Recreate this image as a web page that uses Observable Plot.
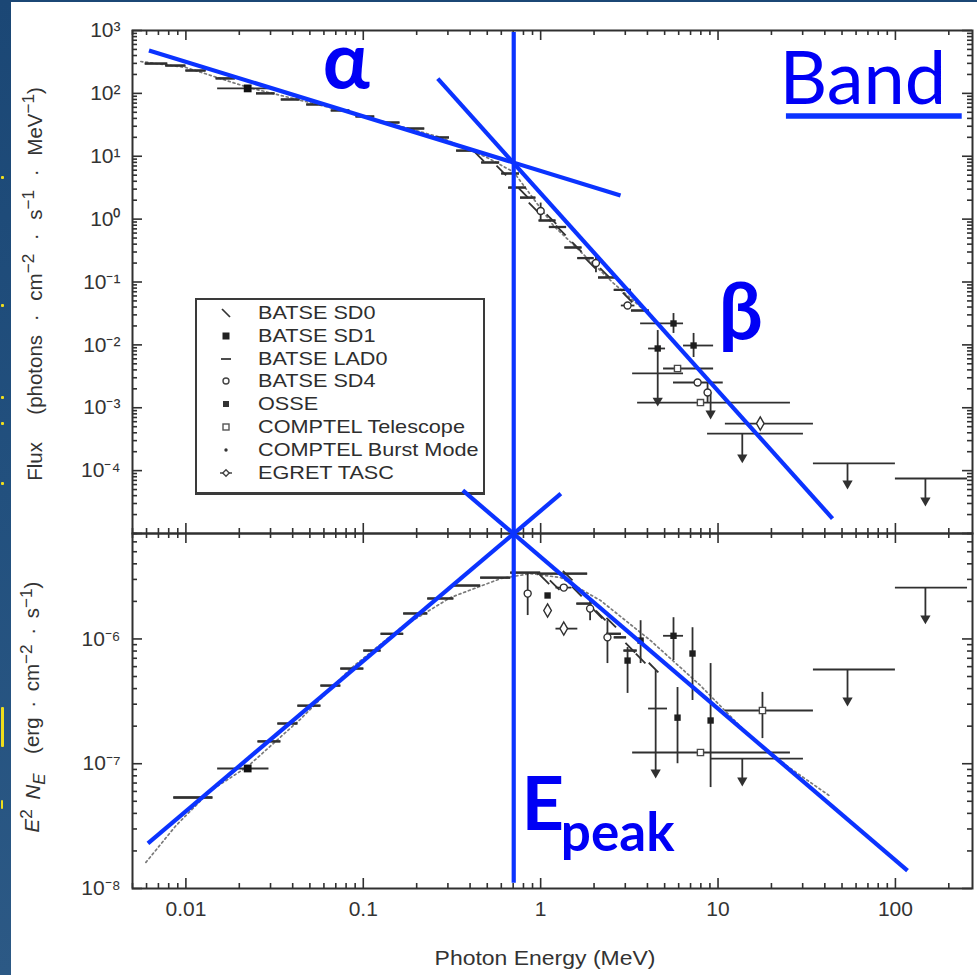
<!DOCTYPE html>
<html>
<head>
<meta charset="utf-8">
<script src="https://cdn.jsdelivr.net/npm/d3@7"></script>
<script src="https://cdn.jsdelivr.net/npm/@observablehq/plot@0.6"></script>
<style>
  html, body { margin: 0; padding: 0; background: #fff; }
  #fig { position: relative; width: 977px; height: 975px; overflow: hidden; background: #fff;
         font-family: "Liberation Sans", Arial, Helvetica, sans-serif; color: #333; }
  #edge { position: absolute; left: 0; top: 0; width: 11px; height: 975px;
          background: linear-gradient(180deg, #1b4775 0%, #22507e 50%, #2c5985 100%); }
  #edgeTop { position: absolute; left: 0; top: 0; width: 977px; height: 2px; background: #1b4775; }
  .fleck { position: absolute; left: 1px; width: 3px; background: #f0de1c; border-radius: 1px; }
  .panel { position: absolute; left: 0; }
  .ytitle { position: absolute; white-space: nowrap; font-size: 20.5px;
            transform: translate(-50%, -50%) rotate(-90deg); }
  .ytitle i { font-style: italic; }
  #xtitle { position: absolute; left: 545px; top: 958px; transform: translate(-50%, -50%) scaleX(1.12);
            font-size: 20.5px; white-space: nowrap; }
  #legend { position: absolute; left: 195px; top: 298px; width: 286px; height: 190px;
            border: 2px solid #3a3a3a; border-bottom-width: 3px; background: #fff; padding-top: 2px;
            box-sizing: content-box; }
  #legend .row { position: relative; height: 22.8px; }
  #legend svg { position: absolute; left: 22px; top: 4px; width: 14px; height: 14px; overflow: visible; }
  #legend span { position: absolute; left: 61px; top: 0; line-height: 22.8px; font-size: 18.5px;
                 transform: scaleX(1.17); transform-origin: left center; white-space: nowrap; color: #2e2e2e; }
</style>
</head>
<body>
<div id="fig">
  <div id="edge"></div>
  <div id="edgeTop"></div>
  <div class="fleck" style="top:176px;height:3px"></div>
  <div class="fleck" style="top:304px;height:3px"></div>
  <div class="fleck" style="top:396px;height:3px"></div>
  <div class="fleck" style="top:422px;height:3px"></div>
  <div class="fleck" style="top:482px;height:3px"></div>
  <div class="fleck" style="top:707px;height:40px"></div>
  <div class="fleck" style="top:800px;height:9px;width:2px"></div>

  <div id="upper" class="panel" style="top:0"></div>

  <div id="legend">
    <div class="row"><svg viewBox="-7 -7 14 14"><line x1="-4" y1="-4" x2="4" y2="4" stroke="#333" stroke-width="1.7"/></svg><span>BATSE SD0</span></div>
    <div class="row"><svg viewBox="-7 -7 14 14"><rect x="-3.5" y="-3.5" width="7" height="7" fill="#222"/></svg><span>BATSE SD1</span></div>
    <div class="row"><svg viewBox="-7 -7 14 14"><line x1="-5" y1="0" x2="5" y2="0" stroke="#444" stroke-width="1.9"/></svg><span>BATSE LAD0</span></div>
    <div class="row"><svg viewBox="-7 -7 14 14"><circle r="3" fill="#fff" stroke="#444" stroke-width="1.4"/></svg><span>BATSE SD4</span></div>
    <div class="row"><svg viewBox="-7 -7 14 14"><rect x="-3" y="-3" width="6" height="6" fill="#333"/></svg><span>OSSE</span></div>
    <div class="row"><svg viewBox="-7 -7 14 14"><rect x="-3" y="-3" width="6" height="6" fill="#fff" stroke="#555" stroke-width="1.4"/></svg><span>COMPTEL Telescope</span></div>
    <div class="row"><svg viewBox="-7 -7 14 14"><circle r="1.7" fill="#333"/></svg><span>COMPTEL Burst Mode</span></div>
    <div class="row"><svg viewBox="-7 -7 14 14"><line x1="-6" y1="0" x2="6" y2="0" stroke="#444" stroke-width="1.5"/><path d="M0,-3.2L3.2,0L0,3.2L-3.2,0Z" fill="#fff" stroke="#444" stroke-width="1.4"/></svg><span>EGRET TASC</span></div>
  </div>

  <div id="lower" class="panel" style="top:533px"></div>

  <div class="ytitle" style="left:33px;top:284px;word-spacing:8px">Flux&nbsp; (photons · cm<sup>−2</sup> · s<sup>−1</sup> · MeV<sup>−1</sup>)</div>
  <div class="ytitle" style="left:33px;top:707px;word-spacing:4px"><i>E</i><sup>2</sup> <i>N<sub>E</sub></i>&nbsp; (erg · cm<sup>−2</sup> · s<sup>−1</sup>)</div>
  <div id="xtitle">Photon Energy (MeV)</div>
</div>

<script>
// ---------- axes ----------
const energyDomain = [0.005, 272];
const fluxDomain = [1e-5, 1e3];
const nufnuDomain = [1e-8, 7e-6];

const energyTicks = [0.01, 0.1, 1, 10, 100];
const energyTickLabels = ["0.01", "0.1", "1", "10", "100"];
const fluxTicks = [1e3, 1e2, 1e1, 1, 1e-1, 1e-2, 1e-3, 1e-4];
const fluxTickLabels = ["10³", "10²", "10¹", "10⁰", "10⁻¹", "10⁻²", "10⁻³", "10⁻⁴"];
const nufnuTicks = [1e-6, 1e-7, 1e-8];
const nufnuTickLabels = ["10⁻⁶", "10⁻⁷", "10⁻⁸"];

// ---------- upper panel: photon flux ----------
// [E (MeV), flux, E low, E high, flux low, flux high]
const lad0Flux = [
  [0.0068, 298, 0.0059, 0.0079], [0.0088, 277, 0.0077, 0.0100], [0.0114, 231, 0.0100, 0.0130],
  [0.0168, 173, 0.0148, 0.0190], [0.0282, 100, 0.0250, 0.0318], [0.0391, 80, 0.0345, 0.0440],
  [0.054, 66.6, 0.048, 0.0605], [0.0747, 53.5, 0.066, 0.084], [0.103, 42.9, 0.091, 0.116],
  [0.143, 34.4, 0.127, 0.161], [0.198, 27.6, 0.176, 0.222], [0.273, 19.9, 0.243, 0.306],
  [0.378, 12.3, 0.336, 0.424], [0.523, 7.96, 0.465, 0.587], [0.678, 5.32, 0.603, 0.760],
  [0.741, 3.18, 0.66, 0.83], [0.85, 2.2, 0.77, 0.94], [1.094, 0.951, 0.98, 1.22],
  [1.25, 0.75, 1.12, 1.4], [1.53, 0.354, 1.37, 1.71], [1.8, 0.24, 1.62, 2.0],
  [2.38, 0.118, 2.12, 2.66], [2.9, 0.075, 2.6, 3.25], [3.66, 0.0352, 3.25, 4.1]
];
// [E, flux]
const sd0Flux = [[0.45, 9.9], [0.60, 5.93], [0.80, 2.6], [0.912, 1.53], [1.15, 1.0], [1.30, 0.659],
  [1.6, 0.36], [1.91, 0.197], [2.3, 0.14], [3.09, 0.0568], [4.57, 0.0219]];
const sd1Flux = [[0.0223, 120, 0.0151, 0.0294]];
const sd4Flux = [[1.0, 1.35, null, null, 0.95, 1.8], [2.05, 0.2, null, null, 0.14, 0.27],
  [3.09, 0.0423, 2.85, 3.4], [7.67, 0.00252, 5.61, 10.7], [8.73, 0.00175, null, null, 0.00121, 0.00252]];
const osseFlux = [
  [5.61, 0.0219, 3.66, 6.39, 0.0152, 0.0315],
  [4.57, 0.00876, 4.06, 5.06, 0.00351, 0.0169],
  [7.28, 0.00977, 6.39, 9.44, 0.0063, 0.0152]
];
const comptelFlux = [[5.91, 0.00421, 4.93, 9.44], [7.96, 0.00121, 3.52, 25.6]];
const egretFlux = [[17.3, 5.61e-4, 11.0, 34.5]];
// upper limits: [E, flux, E low, E high, arrow tip]
const limitsFlux = [
  [4.57, 0.00351, 3.30, 6.39, 0.0013],
  [9.08, 0.00175, null, null, 8.09e-4],
  [13.7, 3.89e-4, 8.73, 30.3, 1.62e-4],
  [53.7, 1.30e-4, 34.5, 100, 6.24e-5],
  [147.6, 7.50e-5, 100, 255, 3.35e-5]
];
const modelFlux = [
  [0.00557, 321], [0.01, 258], [0.0223, 125], [0.0747, 54], [0.273, 20], [0.50, 9.5],
  [0.705, 5.6], [1.18, 0.79], [2.58, 0.095], [4.0, 0.032]
];

// ---------- lower panel: E² N_E ----------
const lad0NuFnu = [
  [0.0111, 5.36e-8, 0.00855, 0.0142], [0.0294, 1.51e-7, 0.0255, 0.0343], [0.0376, 2.10e-7, 0.0330, 0.0428],
  [0.0493, 2.92e-7, 0.0428, 0.0577], [0.0656, 4.23e-7, 0.0577, 0.0747], [0.0873, 5.79e-7, 0.0747, 0.1007],
  [0.113, 8.07e-7, 0.1007, 0.126], [0.147, 1.10e-6, 0.126, 0.169], [0.198, 1.60e-6, 0.169, 0.231],
  [0.273, 2.11e-6, 0.231, 0.324], [0.383, 2.68e-6, 0.324, 0.459], [0.557, 3.10e-6, 0.459, 0.678],
  [0.823, 3.40e-6, 0.678, 1.0], [1.30, 3.34e-6, 0.962, 1.84], [1.75, 1.92e-6, 1.6, 1.95],
  [2.58, 1.10e-6, 2.35, 2.85], [2.82, 1.03e-6, 2.6, 3.05], [3.21, 8.07e-7, 2.95, 3.5]
];
const sd0NuFnu = [[1.05, 3.0e-6], [1.2, 2.7e-6], [1.42, 3.22e-6], [1.6, 2.4e-6], [2.09, 1.60e-6],
  [2.18, 1.54e-6], [2.5, 1.35e-6], [3.2, 8.5e-7], [3.66, 6.97e-7], [4.33, 5.90e-7]];
const sd1NuFnu = [[0.0223, 9.16e-8, 0.0151, 0.0294]];
const sd4NuFnu = [
  [0.845, 2.31e-6, null, null, 1.54e-6, 3.34e-6],
  [1.35, 2.58e-6, 1.22, 1.5],
  [1.9, 1.75e-6, null, null, 1.4e-6, 2.1e-6],
  [2.38, 1.03e-6, null, null, 6.35e-7, 1.40e-6]
];
const osseNuFnu = [
  [1.094, 2.23e-6],
  [3.66, 9.70e-7, null, null, 6.35e-7, 1.40e-6],
  [5.61, 1.06e-6, 4.93, 6.39, 6.71e-7, 1.48e-6],
  [7.18, 7.64e-7, null, null, 3.21e-7, 1.23e-6],
  [9.08, 2.22e-7, null, null, 6.44e-8, 6.35e-7],
  [5.91, 2.34e-7, null, null, 1.00e-7, 4.08e-7],
  [3.09, 6.71e-7, null, null, 3.66e-7, 8.53e-7]
];
const comptelNuFnu = [[7.96, 1.23e-7, 3.30, 25.6], [17.8, 2.67e-7, 11.0, 34.5, 1.59e-7, 3.73e-7]];
const egretNuFnu = [[1.094, 1.69e-6], [1.35, 1.21e-6, 1.22, 1.62]];
// upper limits: [E, value, E low, E high, arrow tip, bar top]
const limitsNuFnu = [
  [4.45, 2.77e-7, 4.06, 5.19, 8.5e-8, 5.58e-7],
  [13.7, 1.10e-7, 9.08, 30.3, 7.33e-8],
  [53.7, 5.69e-7, 34.5, 100, 3.21e-7],
  [147.6, 2.58e-6, 100, 255, 1.46e-6]
];
const modelNuFnu = [
  [0.00595, 1.62e-8], [0.0088, 3.2e-8], [0.0138, 6.09e-8], [0.0223, 9.5e-8], [0.0446, 2.30e-7],
  [0.085, 5.79e-7], [0.163, 1.23e-6], [0.311, 2.15e-6], [0.596, 3.05e-6], [0.879, 3.34e-6],
  [1.30, 3.10e-6], [2.18, 2.03e-6], [4.17, 9.7e-7], [7.96, 4.23e-7], [15.2, 1.65e-7],
  [25.6, 9.16e-8], [43.1, 5.46e-8]
];

// ---------- Band-function guide lines ----------
const epeak = 0.705;
const alphaLine = [0.00619, 481, 2.82, 2.38];
const betaLine = [0.263, 172, 44.2, 1.73e-5];
const risingLine = [0.00611, 2.30e-8, 1.30, 1.46e-5];
const fallingLine = [0.364, 1.55e-5, 117, 1.39e-8];
const epeakSpanFlux = [1e-5, 929];
const epeakSpanNuFnu = [1.1e-8, 7e-6];

// annotation anchors (E, value) and their texts
const alphaLabel = [0.0591, 124, "α"];
const betaLabel = [10.07, 0.0126, "β"];
const bandLabel = [22.2, 69, "Band"];
const bandUnderline = [24.3, 238, 43.6];
const epeakLabel = [0.781, 2.92e-8, "E"];
const epeakSub = [1.30, 2.01e-8, "peak"];

// ---------- drawing ----------
const INK = "#303030";
const BLUE = "#0b33ff";
const BLUE_TEXT = "#0000f5";
const FONT = "'Liberation Sans', Arial, Helvetica, sans-serif";
const W = 977, ML = 132, MR = 5;
const innerW = W - ML - MR;

const rows = (arr) => arr.map(([e, v, elo, ehi, vlo, vhi]) => ({e, v, elo, ehi, vlo, vhi}));
const limRows = (arr) => arr.map(([e, v, elo, ehi, tip, top]) => ({e, v, elo, ehi, tip, top: top ?? v}));
const isMajor = (d) => Math.abs(Math.log10(d) - Math.round(Math.log10(d))) < 1e-9;
const backslash = {draw(ctx, size) { const r = Math.sqrt(size / Math.PI); ctx.moveTo(-r, -r); ctx.lineTo(r, r); }};

function frameTicks(yDomain, innerH) {
  const xs = d3.scaleLog().domain(energyDomain).ticks();
  const ys = d3.scaleLog().domain(yDomain).ticks();
  const xMaj = xs.filter(isMajor), xMin = xs.filter(d => !isMajor(d));
  const yMaj = ys.filter(isMajor), yMin = ys.filter(d => !isMajor(d));
  const t = {stroke: INK, strokeWidth: 1.6};
  const marks = [];
  for (const [vals, len] of [[xMaj, 10], [xMin, 5]]) {
    marks.push(Plot.tickX(vals, {x: d => d, insetBottom: innerH - len, ...t}));
    marks.push(Plot.tickX(vals, {x: d => d, insetTop: innerH - len, ...t}));
  }
  for (const [vals, len] of [[yMaj, 10], [yMin, 5]]) {
    marks.push(Plot.tickY(vals, {y: d => d, insetRight: innerW - len, ...t}));
    marks.push(Plot.tickY(vals, {y: d => d, insetLeft: innerW - len, ...t}));
  }
  return marks;
}

function dataMarks({lad0, sd0, sd1, sd4, osse, comptel, egret, limits, model}) {
  const all = [lad0, sd1, sd4, osse, comptel, egret].flatMap(rows);
  const lims = limRows(limits);
  const line = {stroke: INK, strokeWidth: 1.8};
  return [
    Plot.line(model, {x: d => d[0], y: d => d[1], stroke: "#7a7a7a", strokeWidth: 1.7, strokeDasharray: "2,3"}),
    Plot.ruleY(rows(lad0), {x1: "elo", x2: "ehi", y: "v", stroke: INK, strokeWidth: 2.3}),
    Plot.ruleY(all.filter(d => d.elo != null), {x1: "elo", x2: "ehi", y: "v", ...line}),
    Plot.ruleX(all.filter(d => d.vlo != null), {x: "e", y1: "vlo", y2: "vhi", ...line}),
    Plot.ruleY(lims.filter(d => d.elo != null), {x1: "elo", x2: "ehi", y: "v", ...line}),
    Plot.ruleX(lims, {x: "e", y1: "tip", y2: "top", ...line}),
    Plot.dot(lims, {x: "e", y: "tip", symbol: "triangle", rotate: 180, r: 3.8, fill: INK}),
    Plot.dot(rows(sd0), {x: "e", y: "v", symbol: backslash, r: 4.8, stroke: INK, strokeWidth: 1.8}),
    Plot.dot(rows(sd1), {x: "e", y: "v", symbol: "square", r: 4.4, fill: "#111"}),
    Plot.dot(rows(sd4), {x: "e", y: "v", symbol: "circle", r: 3.5, fill: "#fff", stroke: INK, strokeWidth: 1.4}),
    Plot.dot(rows(osse), {x: "e", y: "v", symbol: "square", r: 3.6, fill: "#1e1e1e"}),
    Plot.dot(rows(comptel), {x: "e", y: "v", symbol: "square", r: 3.5, fill: "#fff", stroke: "#4a4a4a", strokeWidth: 1.4}),
    Plot.dot(rows(egret), {x: "e", y: "v", symbol: "diamond", r: 4, fill: "#fff", stroke: INK, strokeWidth: 1.4})
  ];
}

const seg = ([x1, y1, x2, y2]) => ({x1, y1, x2, y2});
const blueLine = {x1: "x1", y1: "y1", x2: "x2", y2: "y2", stroke: BLUE, strokeWidth: 4.2};
const fluxLabel = new Map(fluxTicks.map((d, i) => [d, fluxTickLabels[i]]));
const nufnuLabel = new Map(nufnuTicks.map((d, i) => [d, nufnuTickLabels[i]]));
const energyLabel = new Map(energyTicks.map((d, i) => [d, energyTickLabels[i]]));
const plotStyle = {background: "transparent", overflow: "visible", fontFamily: FONT, fontSize: "21px", color: "#333"};
const annoFont = "Lato, 'Open Sans', sans-serif";

const upperH = 533, upperTop = 30;
const upper = Plot.plot({
  width: W, height: upperH, marginLeft: ML, marginRight: MR, marginTop: upperTop, marginBottom: 0,
  style: plotStyle,
  x: {type: "log", domain: energyDomain, axis: null},
  y: {type: "log", domain: fluxDomain},
  marks: [
    Plot.axisY({ticks: fluxTicks, tickFormat: d => fluxLabel.get(d), tickSize: 0, tickPadding: 12, label: null}),
    ...dataMarks({lad0: lad0Flux, sd0: sd0Flux, sd1: sd1Flux, sd4: sd4Flux, osse: osseFlux,
                  comptel: comptelFlux, egret: egretFlux, limits: limitsFlux, model: modelFlux}),
    ...frameTicks(fluxDomain, upperH - upperTop),
    Plot.frame({stroke: INK, strokeWidth: 2}),
    Plot.link([seg(alphaLine), seg(betaLine)], blueLine),
    Plot.ruleX([epeak], {x: d => d, y1: epeakSpanFlux[0], y2: epeakSpanFlux[1], stroke: BLUE, strokeWidth: 4.2}),
    Plot.text([alphaLabel], {x: d => d[0], y: d => d[1], text: d => d[2], textAnchor: "start", lineAnchor: "bottom",
      fontFamily: annoFont, fontWeight: "bold", fontSize: 78, fill: BLUE_TEXT}),
    Plot.text([betaLabel], {x: d => d[0], y: d => d[1], text: d => d[2], textAnchor: "start", lineAnchor: "bottom",
      fontFamily: annoFont, fontWeight: "bold", fontSize: 78, fill: BLUE_TEXT}),
    Plot.text([bandLabel], {x: d => d[0], y: d => d[1], text: d => d[2], textAnchor: "start", lineAnchor: "bottom",
      fontFamily: annoFont, fontSize: 74, fill: BLUE_TEXT}),
    Plot.ruleY([bandUnderline], {x1: d => d[0], x2: d => d[1], y: d => d[2], stroke: BLUE, strokeWidth: 5.5})
  ]
});
document.getElementById("upper").append(upper);

const lowerH = 442, lowerBottom = 87;
const lower = Plot.plot({
  width: W, height: lowerH, marginLeft: ML, marginRight: MR, marginTop: 0, marginBottom: lowerBottom,
  style: plotStyle,
  x: {type: "log", domain: energyDomain},
  y: {type: "log", domain: nufnuDomain},
  marks: [
    Plot.axisX({ticks: energyTicks, tickFormat: d => energyLabel.get(d), tickSize: 0, tickPadding: 13, label: null}),
    Plot.axisY({ticks: nufnuTicks, tickFormat: d => nufnuLabel.get(d), tickSize: 0, tickPadding: 12, label: null}),
    ...dataMarks({lad0: lad0NuFnu, sd0: sd0NuFnu, sd1: sd1NuFnu, sd4: sd4NuFnu, osse: osseNuFnu,
                  comptel: comptelNuFnu, egret: egretNuFnu, limits: limitsNuFnu, model: modelNuFnu}),
    ...frameTicks(nufnuDomain, lowerH - lowerBottom),
    Plot.frame({stroke: INK, strokeWidth: 2}),
    Plot.link([seg(risingLine), seg(fallingLine)], blueLine),
    Plot.ruleX([epeak], {x: d => d, y1: epeakSpanNuFnu[0], y2: epeakSpanNuFnu[1], stroke: BLUE, strokeWidth: 4.2}),
    Plot.text([epeakLabel], {x: d => d[0], y: d => d[1], text: d => d[2], textAnchor: "start", lineAnchor: "bottom",
      fontFamily: annoFont, fontWeight: "bold", fontSize: 74, fill: BLUE_TEXT}),
    Plot.text([epeakSub], {x: d => d[0], y: d => d[1], text: d => d[2], textAnchor: "start", lineAnchor: "bottom",
      fontFamily: annoFont, fontWeight: "bold", fontSize: 53, fill: BLUE_TEXT})
  ]
});
document.getElementById("lower").append(lower);
</script>
</body>
</html>
